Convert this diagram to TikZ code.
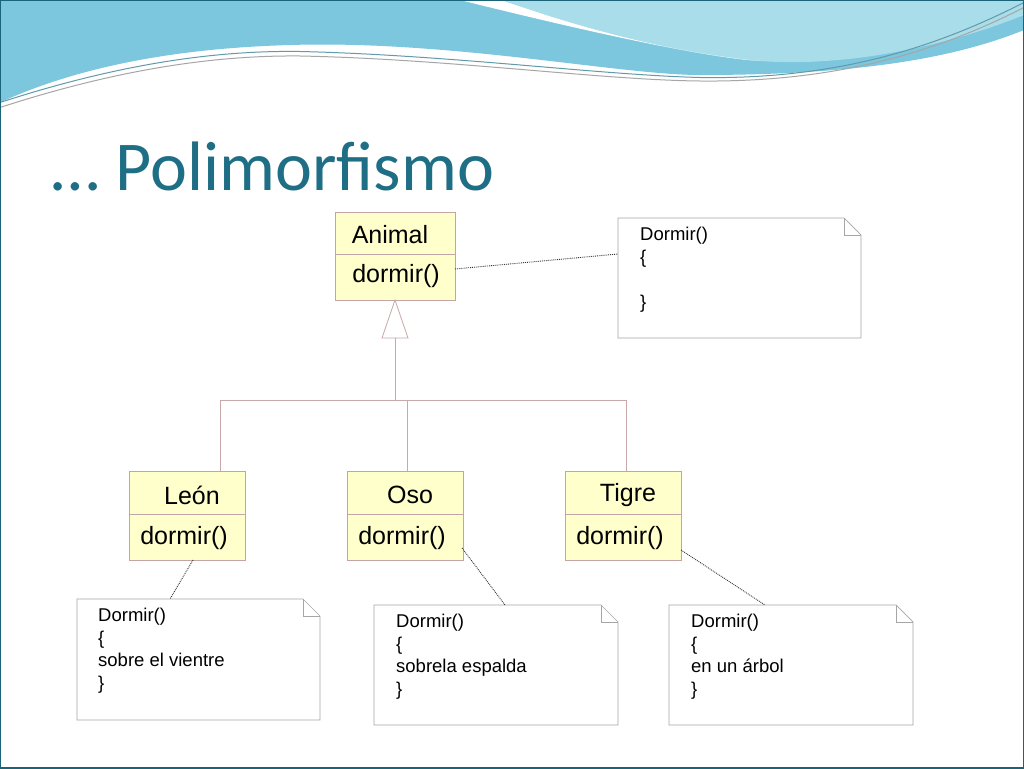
\documentclass[tikz,border=0pt]{standalone}
\usepackage{fontspec}
\setmainfont{Liberation Sans}
\newfontfamily\titlefont{Carlito}
\begin{document}
\begin{tikzpicture}[x=1pt,y=-1pt,
  cls/.style={draw=clsline,fill=clsfill,line width=0.8pt},
  note/.style={draw=gray!70,fill=white,line width=0.7pt},
  link/.style={densely dotted,line width=0.9pt,black!80},
  ct/.style={font=\fontsize{25}{28}\selectfont}]
\definecolor{clsline}{HTML}{C4A4A4}
\definecolor{clsfill}{HTML}{FFFFCC}
\definecolor{lineclr}{HTML}{C8A8A8}
\definecolor{teal1}{HTML}{1E6E85}
\definecolor{waveA}{HTML}{7CC6DE}
\definecolor{waveB}{HTML}{A8DDE9}
\useasboundingbox (0,0) rectangle (1024,768);
\fill[white] (0,0) rectangle (1024,768);
\begin{scope}[yscale=0.5]
\fill[waveA] (0,0) -- (460,0) .. controls (560,40) and (700,60) .. (760,75) .. controls (850,95) and (950,80) .. (1024,30) -- (1024,60) .. controls (950,120) and (850,150) .. (700,150) .. controls (620,150) and (450,80) .. (290,90) .. controls (150,98) and (60,150) .. (0,205) -- cycle;
\fill[waveB] (500,0) -- (1024,0) -- (1024,30) .. controls (950,90) and (850,135) .. (760,122) .. controls (650,100) and (560,40) .. (500,0) -- cycle;
\fill[white] (460,0) -- (500,0) .. controls (560,40) and (650,100) .. (760,122) .. controls (700,115) and (560,50) .. (460,0) -- cycle;
\draw[teal1!70,line width=1pt] (0,205) .. controls (100,140) and (200,100) .. (300,103) .. controls (450,110) and (600,150) .. (700,155) .. controls (850,160) and (950,80) .. (1024,5);
\draw[gray!70,line width=1pt] (0,215) .. controls (100,150) and (200,110) .. (300,112) .. controls (450,118) and (600,160) .. (700,162) .. controls (850,165) and (950,90) .. (1024,15);
\end{scope}
\draw[teal1!90!black,line width=1.2pt] (0,0) rectangle (1024,768);
\node[anchor=west,text=teal1,font=\titlefont\fontsize{70}{80}\selectfont] (title) at (48,166) {… Polimorfismo};
% classes
\path[cls] (335,212) rectangle (455,300); \draw[clsline,line width=0.8pt] (335,254) -- (455,254);
\node[ct] (animal) at (390,235) {Animal};
\node[ct] (animalop) at (396,276) {dormir()};
\foreach \n/\x/\nm in {leon/129/León,oso/347/Oso,tigre/565/Tigre}{
  \path[cls] (\x,471) rectangle ({\x+116},560); \draw[clsline,line width=0.8pt] (\x,514) -- ({\x+116},514);
  \node[ct] (\n) at ({\x+63},495) {\nm};
  \node[ct] (\n op) at ({\x+55},538) {dormir()};
}
% generalization
\coordinate (apex) at (395,300);
\coordinate (tb) at (395,338);
\draw[lineclr,line width=0.8pt,fill=white] (apex) -- (408,338) -- (382,338) -- cycle;
\draw[lineclr,line width=0.8pt] (tb) -- (395,400);
\draw[lineclr,line width=0.8pt] (220,471) -- (220,400) -- (626,400) -- (626,471);
\draw[lineclr,line width=0.8pt] (407,400) -- (407,471);
% notes
\newcommand{\umlnote}[5]{%
  \path[note] (#1,#2) -- ({#1+#3-17},#2) -- ({#1+#3},{#2+17}) -- ({#1+#3},{#2+#4}) -- (#1,{#2+#4}) -- cycle;
  \draw[gray!70,line width=0.7pt] ({#1+#3-17},#2) -- ({#1+#3-17},{#2+17}) -- ({#1+#3},{#2+17});
  \coordinate (#5) at (#1,#2);}
\umlnote{618}{218}{243}{120}{n0}
\umlnote{77}{599}{243}{121}{n1}
\umlnote{374}{605}{244}{120}{n2}
\umlnote{669}{605}{244}{120}{n3}
\tikzset{nt/.style={anchor=north west,align=left,font=\fontsize{18.5}{22.5}\selectfont,inner sep=0pt}}
\node[nt] (t0) at (640,227) {Dormir()\\\{\\[\baselineskip]\}};
\node[nt] (t1) at (98,608) {Dormir()\\\{\\sobre el vientre\\\}};
\node[nt] (t2) at (396,614) {Dormir()\\\{\\sobrela espalda\\\}};
\node[nt] (t3) at (691,614) {Dormir()\\\{\\en un árbol\\\}};
% dotted links
\coordinate (a0) at (455,269); \coordinate (b0) at (618,254);
\draw[link] (a0) -- (b0);
\coordinate (a1) at (193,560); \coordinate (b1) at (170,599);
\draw[link] (a1) -- (b1);
\coordinate (a2) at (462,548); \coordinate (b2) at (505,605);
\draw[link] (a2) -- (b2);
\coordinate (a3) at (681,550); \coordinate (b3) at (765,605);
\draw[link] (a3) -- (b3);
\end{tikzpicture}
\end{document}
